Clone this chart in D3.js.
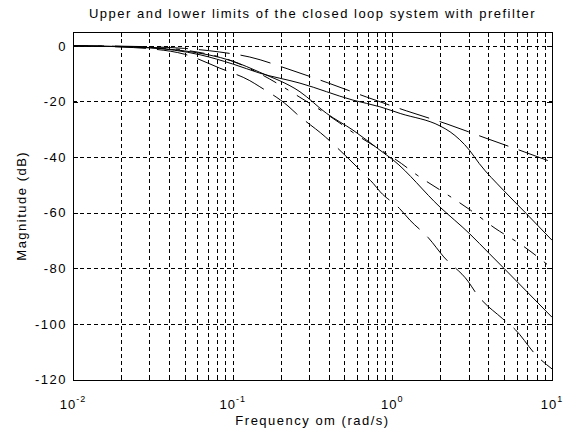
<!DOCTYPE html>
<html>
<head>
<meta charset="utf-8">
<script src="https://cdn.jsdelivr.net/npm/d3@7"></script>
<style>
  body { margin: 0; background: #fff; }
  svg text { font-family: "Liberation Sans", Arial, sans-serif; fill: #000; letter-spacing: 1.5px; }
</style>
</head>
<body>
<svg id="chart" width="565" height="434"></svg>
<script>
// Frequency (rad/s) and magnitude (dB) of each bound / response
const upperDashFreq = [0.01, 0.02, 0.03, 0.05, 0.083, 0.128, 0.222, 0.395, 0.69, 1.23, 2.2, 3.86, 6.76, 10];
const upperDashMag  = [0, -0.1, -0.3, -0.9, -2.2, -4.0, -8.3, -13.3, -18.4, -23.4, -28.1, -33.2, -38.2, -41.8];

const upperSolidFreq = [0.01, 0.02, 0.03, 0.0625, 0.1, 0.148, 0.264, 0.567, 0.836, 1.12, 1.99, 2.3, 3.04, 3.5, 4.96, 6.9, 10];
const upperSolidMag  = [0, -0.2, -0.6, -3.2, -6.5, -9.8, -13.4, -19.5, -21.9, -24.3, -28.8, -30.9, -37.5, -42.3, -51.9, -60.3, -69.9];

const midDashDotFreq = [0.01, 0.02, 0.03, 0.05, 0.1, 0.148, 0.264, 0.47, 0.54, 1.14, 1.43, 2, 3.09, 4.4, 6.6, 10];
const midDashDotMag  = [0, -0.2, -0.5, -1.5, -5.5, -10, -18.5, -27.8, -30.3, -42.3, -46.5, -51.9, -59.1, -65.6, -72, -80];

const lowerSolidFreq = [0.01, 0.02, 0.03, 0.05, 0.1, 0.148, 0.264, 0.388, 0.567, 0.836, 1.01, 1.99, 3.04, 4.05, 5, 10];
const lowerSolidMag  = [0, -0.3, -0.7, -1.8, -5.5, -9.5, -16.5, -24.3, -30.3, -37.5, -41, -58, -67.5, -74.7, -80, -97.6];

const lowerDashFreq = [0.01, 0.02, 0.03, 0.05, 0.083, 0.128, 0.148, 0.222, 0.25, 0.38, 0.445, 0.66, 0.76, 0.84, 1.11, 1.29, 1.68, 2.1, 3.0, 3.34, 4.9, 5.9, 8.0, 10];
const lowerDashMag  = [0, -0.4, -1, -3, -8, -12.5, -14.7, -21.6, -24.3, -32.7, -36.3, -45.9, -49.5, -52.5, -58.5, -62.7, -69, -75.9, -84.9, -88.9, -98.1, -102.1, -111.4, -116.2];

const yTickValues = [0, -20, -40, -60, -80, -100, -120];
const decadeExponents = [-2, -1, 0, 1];

const titleText = "Upper and lower limits of the closed loop system with prefilter";
const xLabelText = "Frequency om (rad/s)";
const yLabelText = "Magnitude (dB)";

// Plot box
const plotLeft = 73, plotRight = 552, plotTop = 32, plotBottom = 379.5;

const svg = d3.select("#chart");

const x = d3.scaleLog().domain([0.01, 10]).range([plotLeft, plotRight]);
const y = d3.scaleLinear().domain([-120, 5]).range([plotBottom, plotTop]);

// every 1..9 x 10^k position for the log grid and ticks
const logTicks = [];
for (let k = -2; k <= 0; k++) {
  for (let m = 1; m <= 9; m++) logTicks.push(+(m * Math.pow(10, k)).toPrecision(3));
}
logTicks.push(10);

// Grid
const grid = svg.append("g").attr("stroke", "#000").attr("stroke-width", 1)
  .attr("stroke-dasharray", "4,3").attr("shape-rendering", "crispEdges");
grid.selectAll("line.v").data(logTicks.filter(d => d > 0.01 && d < 10)).join("line")
  .attr("class", "v")
  .attr("x1", d => Math.round(x(d)) + 0.5).attr("x2", d => Math.round(x(d)) + 0.5)
  .attr("y1", plotTop).attr("y2", plotBottom);
grid.selectAll("line.h").data(yTickValues).join("line")
  .attr("class", "h")
  .attr("x1", plotLeft).attr("x2", plotRight)
  .attr("y1", d => Math.round(y(d)) + 0.5).attr("y2", d => Math.round(y(d)) + 0.5);

// Curves
const line = d3.line().x(d => x(d[0])).y(d => y(d[1])).curve(d3.curveMonotoneX);
const series = [
  { f: upperDashFreq,  m: upperDashMag,  dash: "31,11" },
  { f: upperSolidFreq, m: upperSolidMag, dash: null },
  { f: midDashDotFreq, m: midDashDotMag, dash: "15,10,4,10" },
  { f: lowerSolidFreq, m: lowerSolidMag, dash: null },
  { f: lowerDashFreq,  m: lowerDashMag,  dash: "31,11" }
];
const plot = svg.append("g");
series.forEach(s => {
  plot.append("path")
    .datum(s.f.map((f, i) => [f, s.m[i]]))
    .attr("d", line)
    .attr("fill", "none")
    .attr("stroke", "#000")
    .attr("stroke-width", 1)
    .attr("stroke-dasharray", s.dash);
});

// Axes with inward ticks on all four sides
const axisG = svg.append("g");
const yl = axisG.append("g").attr("transform", `translate(${plotLeft},0)`)
  .call(d3.axisLeft(y).tickValues(yTickValues).tickSize(-5).tickPadding(6).tickFormat(d => String(d)));
axisG.append("g").attr("transform", `translate(${plotRight},0)`)
  .call(d3.axisRight(y).tickValues(yTickValues).tickSize(-5).tickFormat(""));
axisG.append("g").attr("transform", `translate(0,${plotBottom})`)
  .call(d3.axisBottom(x).tickValues(logTicks).tickSize(-5).tickFormat(""));
axisG.append("g").attr("transform", `translate(0,${plotTop})`)
  .call(d3.axisTop(x).tickValues(logTicks).tickSize(-5).tickFormat(""));
axisG.selectAll(".domain").remove();
axisG.selectAll(".tick line").attr("stroke", "#000").attr("shape-rendering", "crispEdges");
yl.selectAll("text").attr("font-size", 13)
  .style("font-family", "'Liberation Sans', Arial, sans-serif").attr("fill", "#000");

// box
svg.append("rect").attr("x", plotLeft + 0.5).attr("y", plotTop + 0.5)
  .attr("width", plotRight - plotLeft).attr("height", plotBottom - plotTop)
  .attr("fill", "none").attr("stroke", "#000").attr("shape-rendering", "crispEdges");

// decade labels 10^k
decadeExponents.forEach(e => {
  const t = svg.append("text").attr("x", x(Math.pow(10, e))).attr("y", plotBottom + 29)
    .attr("text-anchor", "middle").attr("font-size", 13).style("letter-spacing", "1px");
  t.append("tspan").text("10");
  t.append("tspan").attr("dy", -7).attr("font-size", 9).text(String(e));
});

// titles
svg.append("text").attr("x", (plotLeft + plotRight) / 2).attr("y", 18)
  .attr("text-anchor", "middle").attr("font-size", 13).text(titleText);
svg.append("text").attr("x", (plotLeft + plotRight) / 2).attr("y", 425)
  .attr("text-anchor", "middle").attr("font-size", 13).text(xLabelText);
svg.append("text").attr("transform", `translate(26,${(plotTop + plotBottom) / 2}) rotate(-90)`)
  .attr("text-anchor", "middle").attr("font-size", 13).text(yLabelText);
</script>
</body>
</html>
